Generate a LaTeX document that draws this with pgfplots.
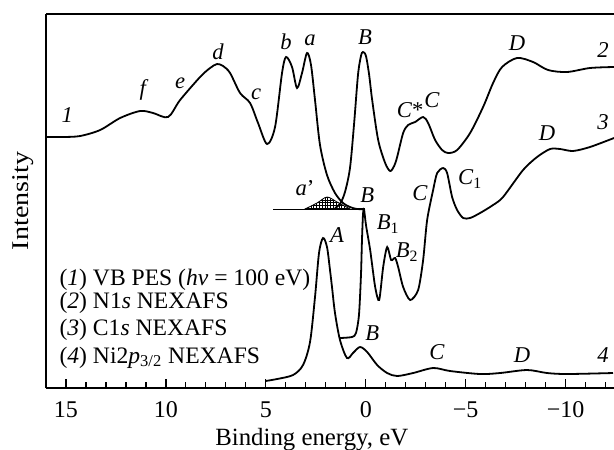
\documentclass[border=0pt]{standalone}
\usepackage{fontspec}
\setmainfont{Liberation Serif}
\usepackage{pgfplots}
\pgfplotsset{compat=1.18}
\usetikzlibrary{calc,patterns}
\newcommand\fs{\fontsize{11.3}{13.6}\selectfont}
\newcommand\fsleg{\fontsize{11.8}{14}\selectfont}
\newcommand\fstick{\fontsize{12}{14}\selectfont}
\newcommand\fslab{\fontsize{12.4}{14.5}\selectfont}

% fine square grid for the a' area
\pgfdeclarepatternformonly{finegrid}{\pgfqpoint{-0.5pt}{-0.5pt}}{\pgfqpoint{1.9pt}{1.9pt}}{\pgfqpoint{1.4pt}{1.4pt}}{%
  \pgfsetlinewidth{0.3pt}%
  \pgfpathmoveto{\pgfqpoint{-0.5pt}{0pt}}\pgfpathlineto{\pgfqpoint{1.9pt}{0pt}}%
  \pgfpathmoveto{\pgfqpoint{0pt}{-0.5pt}}\pgfpathlineto{\pgfqpoint{0pt}{1.9pt}}%
  \pgfusepath{stroke}}

\begin{document}
\begin{tikzpicture}[font=\fs]
\begin{axis}[
    name=ax,
    scale only axis, width=284pt, height=187pt,
    x dir=reverse, xmin=-12.42, xmax=16, ymin=0, ymax=374,
    axis x line*=box, axis y line*=left,
    axis line style={line width=0.6pt},
    xtick={15,10,5,0,-5,-10},
    xticklabels={15,10,5,0,−5,−10},
    minor xtick={-12,...,16},
    xtick pos=left, tick align=inside,
    major tick length=4.5pt, minor tick length=3pt,
    tick style={line width=0.6pt, black},
    ytick=\empty,
    tick label style={font=\fstick},
    xticklabel style={yshift=-3.2pt},
    xlabel={Binding energy, eV},
    xlabel style={font=\fslab, at={(rel axis cs:0.468,0)}, anchor=base, yshift=-28.5pt},
    clip=false,
]
% baseline under a'
\addplot[black, line width=0.5pt] coordinates {(4.64,179) (0.14,179)};
% a' hatched bump
\addplot[black, line width=0.4pt, pattern=finegrid, smooth] coordinates {
    (3.04,179) (2.44,185) (1.94,191) (1.44,186) (0.79,179)} -- cycle;

% (1) VB PES
\addplot[black, line width=0.9pt, smooth, tension=0.5] coordinates {
    (16.0,251) (15.14,251) (14.29,252) (13.29,258) (12.29,270) (11.29,277)
    (10.64,275) (9.89,271) (9.29,288) (8.29,311) (7.79,320) (7.44,324)
    (7.14,322) (6.79,315) (6.29,295) (5.79,285) (5.39,265) (4.94,244)
    (4.54,261) (4.19,315) (3.99,331) (3.69,321) (3.44,300) (3.19,315)
    (2.94,335) (2.74,323) (2.54,288) (2.29,243) (1.94,213) (1.54,195)
    (1.14,185) (0.79,181) (0.44,179) (0.04,179)
};
% (2) N1s NEXAFS
\addplot[black, line width=0.9pt, smooth, tension=0.5] coordinates {
    (1.54,180) (1.29,184) (1.04,196) (0.79,220) (0.59,263) (0.39,313)
    (0.24,332) (0.14,336) (-0.01,332) (-0.17,313) (-0.32,288) (-0.62,248)
    (-0.97,225) (-1.22,217) (-1.42,222) (-1.57,231) (-1.87,255) (-2.12,263)
    (-2.47,266) (-2.87,271) (-3.12,265) (-3.47,248) (-3.82,238) (-4.12,235)
    (-4.57,238) (-5.22,255) (-5.87,281) (-6.37,305) (-6.82,321) (-7.57,330)
    (-8.37,326) (-9.12,318) (-10.07,316) (-11.22,320) (-12.42,321)
};
% (3) C1s NEXAFS
\addplot[black, line width=0.9pt, smooth, tension=0.45] coordinates {
    (1.29,50) (0.69,51) (0.49,55) (0.34,73) (0.24,113) (0.19,148)
    (0.14,173) (0.09,179) (-0.01,163) (-0.22,138) (-0.47,101) (-0.67,88)
    (-0.87,121) (-1.07,141) (-1.27,128) (-1.47,130) (-1.62,121) (-1.87,101)
    (-2.22,88) (-2.62,98) (-2.87,128) (-3.07,168) (-3.37,198) (-3.57,215)
    (-3.87,220) (-4.07,215) (-4.32,191) (-4.57,178) (-4.87,170) (-5.22,170)
    (-5.72,175) (-6.37,183) (-6.87,191) (-7.87,218) (-8.57,231) (-9.22,239)
    (-9.72,239) (-10.37,237) (-11.22,241) (-12.42,250)
};
% (4) Ni2p3/2 NEXAFS
\addplot[black, line width=0.9pt, smooth, tension=0.5] coordinates {
    (5.02,7) (4.44,9) (3.64,13) (3.14,23) (2.79,46) (2.54,91) (2.34,135)
    (2.14,150) (1.94,141) (1.79,118) (1.69,101) (1.54,75) (1.29,48)
    (0.94,30) (0.64,35) (0.29,41) (-0.07,36) (-0.57,23) (-1.07,15)
    (-1.57,12) (-2.37,15) (-3.37,20) (-4.22,17) (-5.72,14) (-6.72,15)
    (-8.07,18) (-9.07,15) (-10.07,14) (-12.37,15)
};

% peak labels
\node at (axis cs:14.94,273) {\textit{1}};
\node at (axis cs:11.09,298) {\textit{f}};
\node at (axis cs:9.29,305) {\textit{e}};
\node at (axis cs:7.39,336) {\textit{d}};
\node at (axis cs:5.49,294) {\textit{c}};
\node at (axis cs:3.99,346) {\textit{b}};
\node at (axis cs:2.79,348) {\textit{a}};
\node at (axis cs:0.04,351) {\textit{B}};
\node at (axis cs:-2.22,278) {\textit{C}*};
\node at (axis cs:-3.32,288) {\textit{C}};
\node at (axis cs:-7.57,345) {\textit{D}};
\node at (axis cs:-11.87,338) {\textit{2}};
\node at (axis cs:-9.07,255) {\textit{D}};
\node at (axis cs:-11.87,266) {\textit{3}};
\node at (axis cs:-5.22,209) {\textit{C}\textsubscript{1}};
\node at (axis cs:-2.72,195) {\textit{C}};
\node at (axis cs:3.04,200) {\textit{a}'};
\node at (axis cs:-0.07,193) {\textit{B}};
\node at (axis cs:-1.12,164) {\textit{B}\textsubscript{1}};
\node at (axis cs:-2.07,136) {\textit{B}\textsubscript{2}};
\node at (axis cs:1.44,153) {\textit{A}};
\node at (axis cs:-0.32,55) {\textit{B}};
\node at (axis cs:-3.57,36) {\textit{C}};
\node at (axis cs:-7.82,33) {\textit{D}};
\node at (axis cs:-11.87,33) {\textit{4}};

% legend text
\node[font=\fsleg, anchor=base west, inner sep=0pt] at (axis cs:15.34,103) {(\textit{1}) VB PES (\textit{hν} = 100 eV)};
\node[font=\fsleg, anchor=base west, inner sep=0pt] at (axis cs:15.34,80) {(\textit{2}) N1\textit{s} NEXAFS};
\node[font=\fsleg, anchor=base west, inner sep=0pt] at (axis cs:15.34,53) {(\textit{3}) C1\textit{s} NEXAFS};
\node[font=\fsleg, anchor=base west, inner sep=0pt] at (axis cs:15.34,25) {(\textit{4}) Ni2\textit{p}\textsubscript{3/2} NEXAFS};
\end{axis}
\node[font=\fstick, rotate=90, anchor=base] at ($(ax.west)+(-9pt,0)$) {\scalebox{1.17}[1]{Intensity}};
\pgfresetboundingbox
\path ($(ax.south west)+(-23pt,-30.5pt)$) rectangle ($(ax.north east)+(0,7pt)$);
\end{tikzpicture}
\end{document}
